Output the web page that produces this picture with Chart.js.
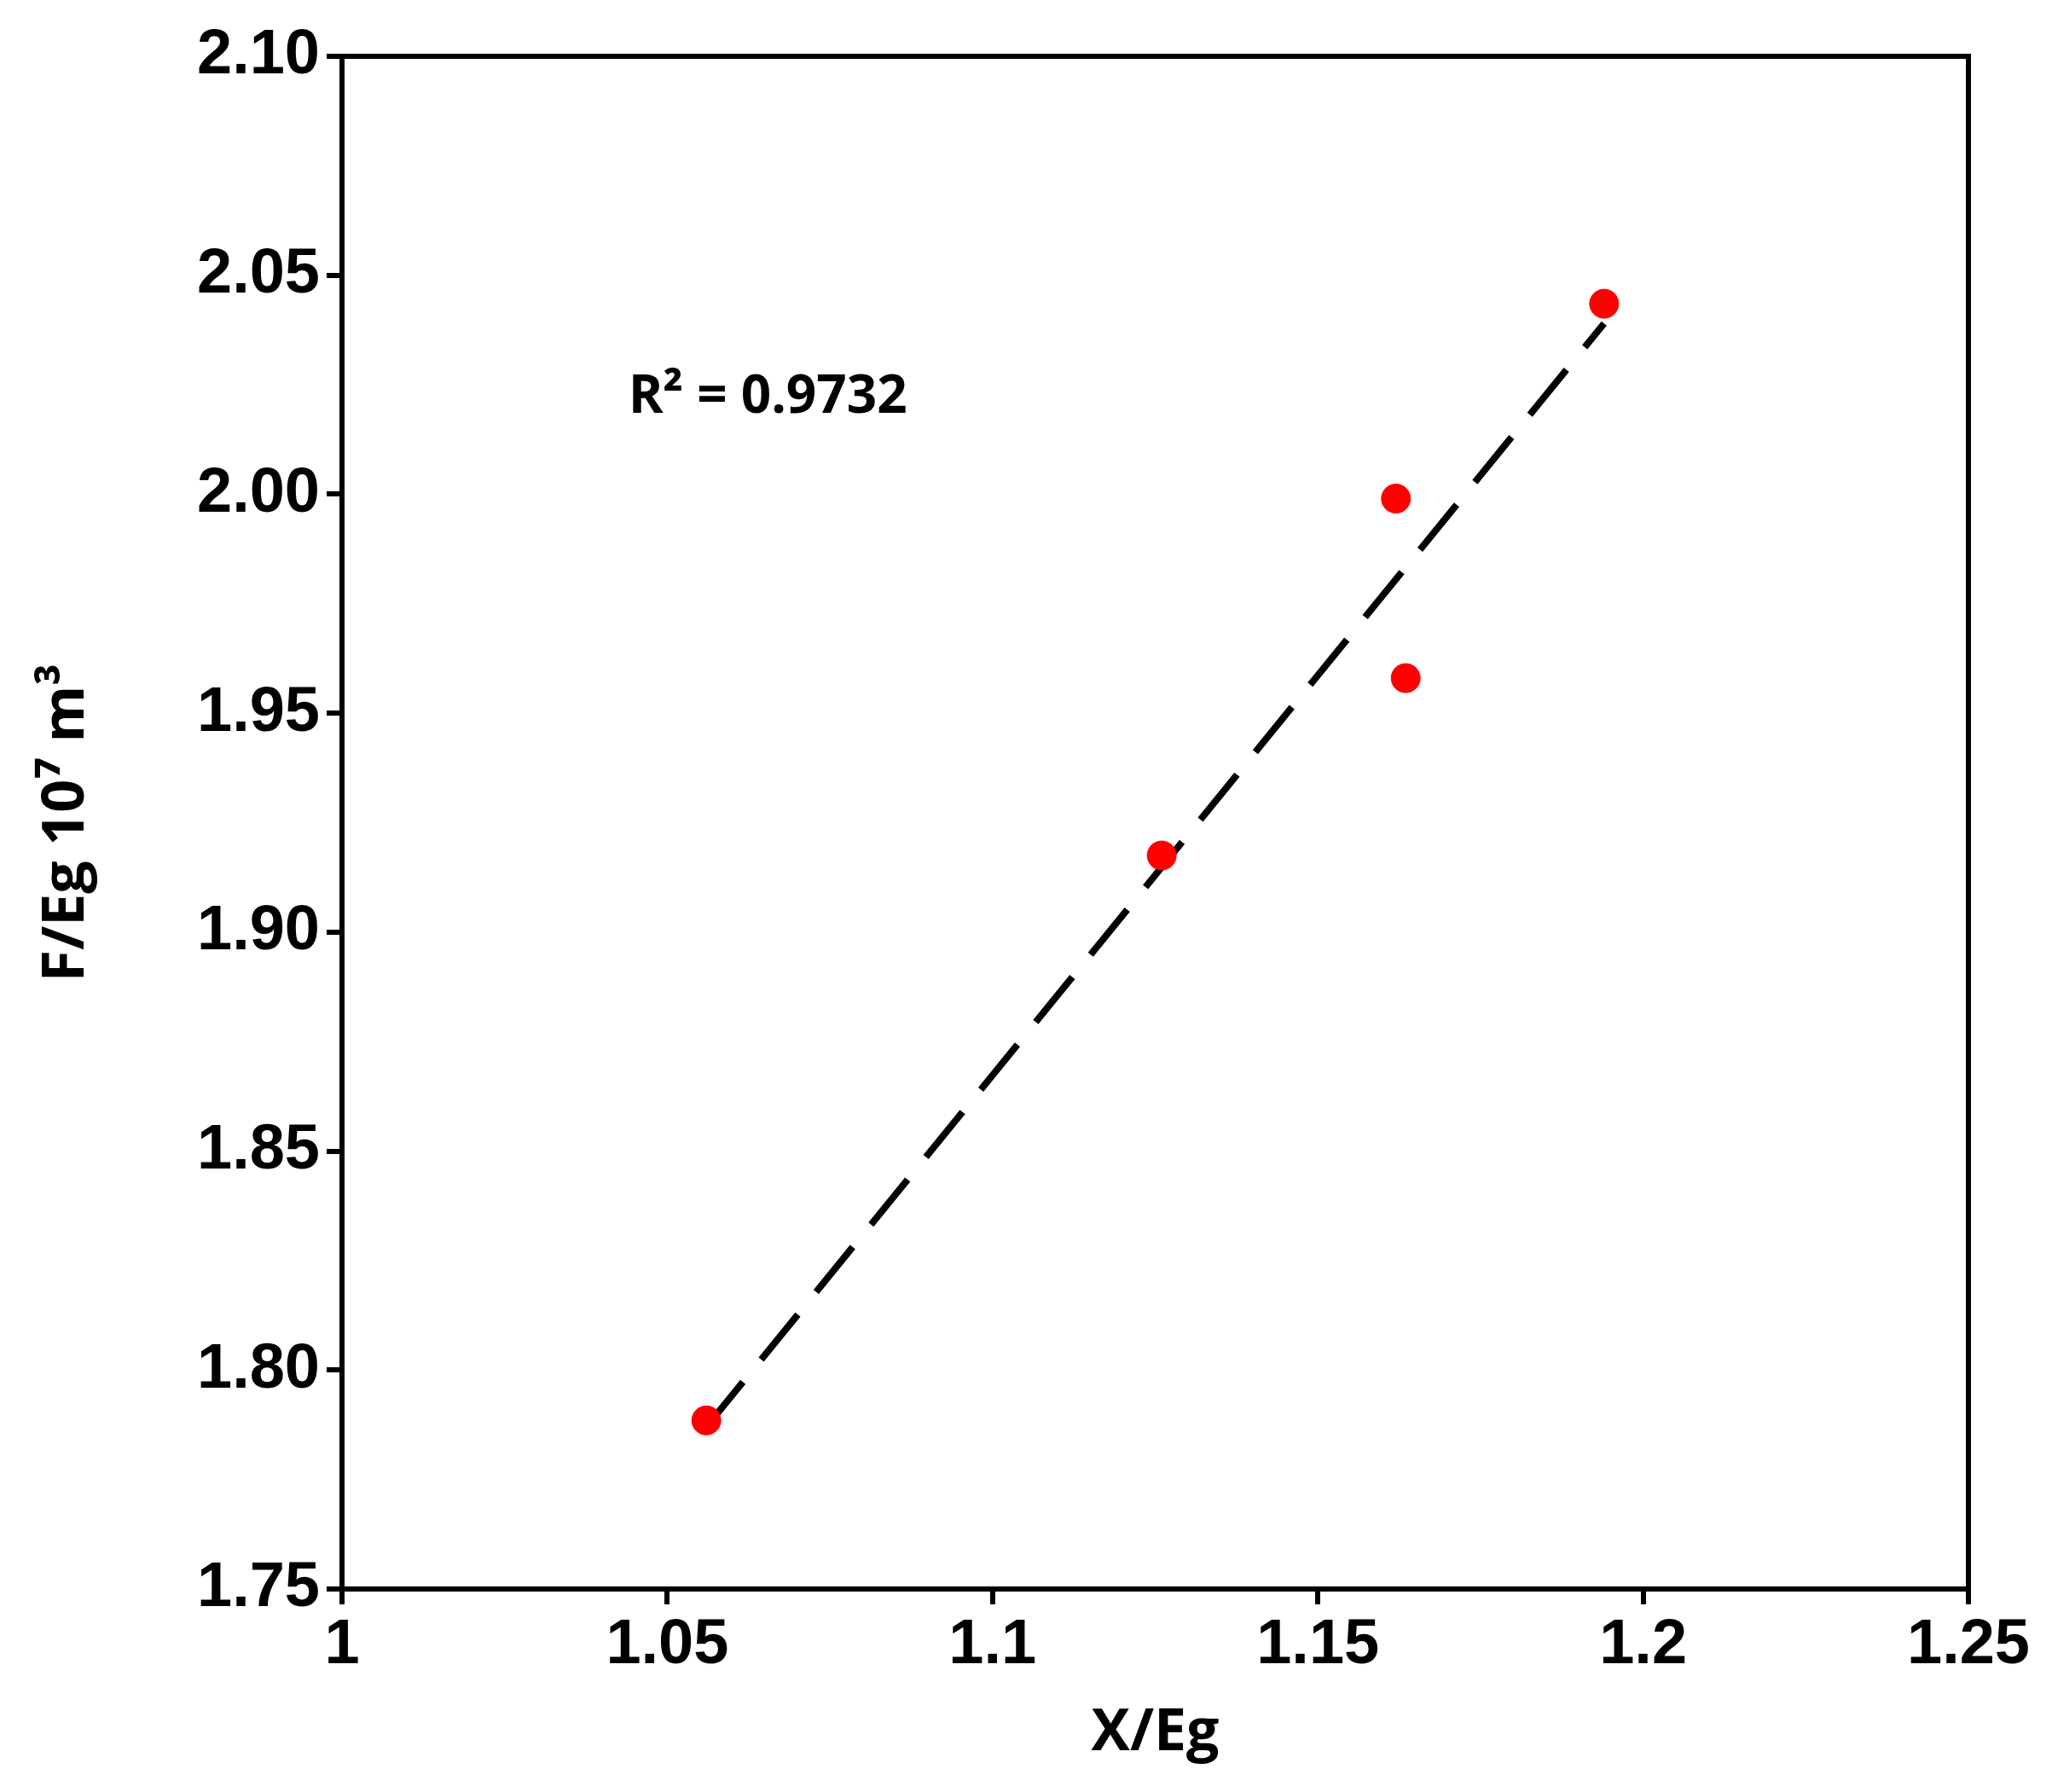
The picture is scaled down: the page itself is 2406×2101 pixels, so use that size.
<!DOCTYPE html>
<html>
<head>
<meta charset="utf-8">
<script src="https://cdn.jsdelivr.net/npm/chart.js@4"></script>
<style>
  body { margin: 0; background: #fff; }
  #wrap { width: 2406px; height: 2101px; }
</style>
</head>
<body>
<div id="wrap"><canvas id="dataChart"></canvas></div>
<script>
// measured points
var xValues = [1.056, 1.126, 1.162, 1.1635, 1.194];
var yValues = [1.7885, 1.9175, 1.999, 1.958, 2.0435];
// linear trend line endpoints
var trendX = [1.056, 1.194];
var trendY = [1.787, 2.039];
var xTicks = [1, 1.05, 1.1, 1.15, 1.2, 1.25];
var yTicks = [1.75, 1.8, 1.85, 1.9, 1.95, 2.0, 2.05, 2.1];
var r2Label = "R² = 0.9732";

var boxPlugin = {
  id: "box",
  afterDatasetsDraw: function (chart) {
    var ctx = chart.ctx, a = chart.chartArea;
    ctx.save();
    ctx.strokeStyle = "#000";
    ctx.lineWidth = 6;
    ctx.strokeRect(a.left, a.top, a.right - a.left, a.bottom - a.top);
    // R² annotation
    ctx.fillStyle = "#000";
    ctx.font = "bold 62px 'Open Sans'";
    ctx.textBaseline = "middle";
    ctx.fillText(r2Label, chart.scales.x.getPixelForValue(1.044), chart.scales.y.getPixelForValue(2.022));
    ctx.restore();
  },
};

var tickFont = { family: "'Liberation Sans'", weight: "bold", size: 74 };
var titleFont = { family: "'Open Sans'", weight: "bold", size: 68 };

new Chart(document.getElementById("dataChart").getContext("2d"), {
  type: "scatter",
  data: {
    datasets: [
      {
        data: trendX.map((x, i) => ({ x: x, y: trendY[i] })),
        showLine: true,
        borderColor: "#000",
        borderWidth: 8,
        borderDash: [68, 34],
        pointRadius: 0,
        order: 2,
      },
      {
        data: xValues.map((x, i) => ({ x: x, y: yValues[i] })),
        backgroundColor: "rgb(255, 0, 0)",
        borderColor: "rgb(255, 0, 0)",
        pointRadius: 17,
        order: 1,
      },
    ],
  },
  options: {
    responsive: true,
    maintainAspectRatio: false,
    devicePixelRatio: 1,
    animation: false,
    layout: { padding: { top: 66, right: 98 } },
    plugins: { legend: { display: false }, tooltip: { enabled: false } },
    scales: {
      x: {
        min: 1, max: 1.25,
        afterFit: function (s) { s.height = 238; },
        afterBuildTicks: function (s) { s.ticks = xTicks.map((v) => ({ value: v })); },
        ticks: { font: tickFont, color: "#000", padding: 4, callback: (v) => String(v) },
        grid: { drawOnChartArea: false, drawTicks: true, tickLength: 18, tickColor: "#000", tickWidth: 6, color: "#000", lineWidth: 6 },
        border: { color: "#000", width: 6 },
        title: { display: true, text: "X/Eg", font: titleFont, color: "#000", padding: { top: 0, bottom: 28 } },
      },
      y: {
        min: 1.75, max: 2.1,
        afterFit: function (s) { s.width = 401; },
        afterBuildTicks: function (s) { s.ticks = yTicks.map((v) => ({ value: v })); },
        ticks: { font: tickFont, color: "#000", padding: 8, callback: (v) => v.toFixed(2) },
        grid: { drawOnChartArea: false, drawTicks: true, tickLength: 18, tickColor: "#000", tickWidth: 6, color: "#000", lineWidth: 6 },
        border: { color: "#000", width: 6 },
        title: { display: true, text: "F/Eg 10⁷ m³", font: titleFont, color: "#000", padding: { top: 38, bottom: 0 } },
      },
    },
  },
  plugins: [boxPlugin],
});
</script>
</body>
</html>
